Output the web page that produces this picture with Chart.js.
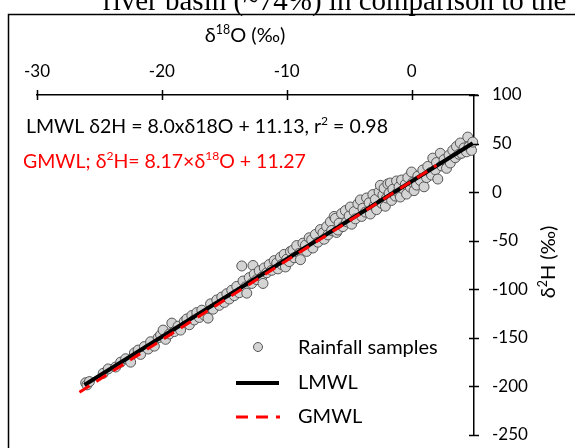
<!DOCTYPE html>
<html>
<head>
<meta charset="utf-8">
<script src="https://cdn.jsdelivr.net/npm/chart.js@4.4.0/dist/chart.umd.min.js"></script>
<style>
html, body { margin: 0; padding: 0; background: #fff; }
#wrap { position: relative; width: 575px; height: 448px; }
</style>
</head>
<body>
<div id="wrap"><canvas id="myChart" width="575" height="448"></canvas></div>
<script>
// rainfall samples
const d18O = [
    -26.1, -26.0, -25.8, -24.7, -24.3, -23.7, -23.3, -22.9, -22.5, -22.2,
    -21.9, -21.7, -21.4, -21.1, -20.9, -20.6, -20.3, -20.1, -19.9, -19.7, -19.4, -19.2, -19.0, -18.7, -18.5, -18.2,
    -18.0, -17.8, -17.6, -17.4, -17.2, -17.0, -16.8, -16.6, -16.3, -16.1, -15.9, -15.6, -15.4, -15.2, -15.0, -14.8, -14.6, -14.4, -14.2, -14.0, -13.8, -13.6,
    -13.5, -13.3, -13.2, -13.0, -12.8, -12.7, -12.6, -12.4, -12.2, -12.0, -11.9, -11.8, -11.6, -11.4, -11.2, -11.0, -10.8, -10.7, -10.5, -10.4, -10.2, -10.1, -10.0, -9.8,
    -9.7, -9.5, -9.4, -9.2, -9.0, -8.9, -8.7, -8.5, -8.4, -8.2, -8.0, -7.9, -7.7, -7.5, -7.3, -7.1, -7.0, -6.8, -6.7, -6.5, -6.4, -6.2, -6.1, -6.0, -5.9, -5.8, -5.6, -5.5,
    -5.3, -5.2, -5.0, -4.9, -4.8, -4.6, -4.5, -4.3, -4.1, -4.0, -3.9, -3.7, -3.6, -3.4, -3.3, -3.1, -3.0, -2.9, -2.8, -2.6, -2.5, -2.4, -2.3, -2.2, -2.1, -2.0, -1.9, -1.8,
    -1.7, -1.6, -1.5, -1.3, -1.2, -1.1, -1.0, -0.9, -0.8, -0.6, -0.5, -0.4, -0.3, -0.1, 0.0, 0.1, 0.2, 0.4, 0.5, 0.7, 0.9, 1.0,
    1.2, 1.3, 1.5, 1.6, 1.7, 1.9, 2.0, 2.1, 2.3, 2.4, 2.6, 2.8, 3.0, 3.1, 3.3, 3.5, 3.6, 3.8, 3.9, 4.0, 4.2, 4.4, 4.5, 4.6, 4.8, 4.9
];
const d2H = [
    -196.2, -198.4, -195.0, -186.5, -182.0, -180.0, -175.0, -171.5, -175.0, -165.5,
    -162.6, -167.0, -159.0, -161.5, -154.0, -158.5, -150.0, -147.0, -142.0, -151.5, -146.0, -134.8, -143.5, -138.0, -142.0, -133.0,
    -130.5, -136.5, -127.0, -131.5, -124.0, -129.0, -121.5, -126.5, -129.7, -115.0, -120.5, -111.0, -116.5, -108.0, -113.5, -104.5, -110.0, -101.0, -106.5, -97.0, -103.5, -76.0,
    -91.5, -97.5, -104.0, -88.0, -94.0, -75.5, -84.5, -90.0, -81.0, -87.5, -94.0, -78.0, -83.0, -74.5, -80.5, -70.5, -73.0, -79.0, -67.0, -74.5, -64.0, -77.0, -69.0, -71.5,
    -61.0, -59.6, -67.5, -55.0, -63.0, -69.5, -52.5, -54.5, -61.0, -47.0, -49.0, -57.5, -43.5, -51.5, -38.5, -42.0, -48.5, -35.5, -44.0, -30.5, -39.5, -25.0, -27.0, -41.5, -39.0, -32.0, -22.0, -35.5,
    -19.0, -30.5, -24.5, -15.3, -33.0, -20.0, -27.5, -12.0, -8.0, -25.0, -16.5, -20.5, -6.0, -11.0, -22.5, -2.5, -14.0, -7.5, -18.0, 0.5, 7.0, -11.5, -3.0, 4.0, -14.5, -6.0, 8.5, -1.0,
    9.4, -8.5, 3.0, -4.0, 11.5, 0.0, 5.5, -5.0, 12.5, 2.5, 8.0, -2.0, 15.0, 5.0, 20.7, 10.0, 1.5, 7.3, 16.5, 12.0, 22.8, 5.5,
    15.0, 26.5, 20.0, 17.6, 35.0, 23.0, 30.5, 13.5, 40.0, 27.0, 33.5, 24.5, 38.0, 30.0, 43.0, 35.5, 47.0, 39.0, 50.6, 40.0, 45.5, 41.5, 56.7, 47.0, 43.0, 51.5
];

// fitted lines, end points
const lmwlX = [-26.2, 4.9];
const lmwlY = [-198.5, 50.3];
const gmwlX = [-26.6, 2.0];
const gmwlY = [-206.0, 27.6];

const xTicks = [-30, -20, -10, 0];
const yTicks = [100, 50, 0, -50, -100, -150, -200, -250];

const caption = 'river basin (~74%) in comparison to the';
const FONT = 'Lato, "Open Sans", sans-serif';

const toPts = (xs, ys) => xs.map((v, i) => ({ x: v, y: ys[i] }));

// draws text with superscript parts: [[text, isSup], ...]
function richText(ctx, parts, x, y, size, color, align) {
    ctx.save();
    ctx.fillStyle = color;
    ctx.textBaseline = 'middle';
    ctx.textAlign = 'left';
    let w = 0;
    parts.forEach(p => {
        ctx.font = (p[1] ? size * 0.62 : size) + 'px ' + FONT;
        w += ctx.measureText(p[0]).width;
    });
    let cx = align === 'center' ? x - w / 2 : x;
    parts.forEach(p => {
        ctx.font = (p[1] ? size * 0.62 : size) + 'px ' + FONT;
        ctx.fillText(p[0], cx, p[1] ? y - size * 0.3 : y);
        cx += ctx.measureText(p[0]).width;
    });
    ctx.restore();
}

const decor = {
    id: 'decor',
    afterDraw(chart) {
        const { ctx, chartArea, scales: { x, y } } = chart;
        ctx.save();
        // frame of the figure
        ctx.strokeStyle = '#000';
        ctx.lineWidth = 1.5;
        ctx.beginPath();
        ctx.moveTo(8.5, 448);
        ctx.lineTo(8.5, 14.5);
        ctx.lineTo(575, 14.5);
        ctx.stroke();

        // clipped caption line from the page
        ctx.fillStyle = '#000';
        ctx.font = '29px "Liberation Serif", serif';
        ctx.textBaseline = 'alphabetic';
        ctx.fillText(caption, 103, 10);

        // tick marks across the axes
        ctx.lineWidth = 1.5;
        ctx.beginPath();
        xTicks.forEach(v => {
            const px = Math.round(x.getPixelForValue(v)) + 0.5;
            ctx.moveTo(px, chartArea.top - 5);
            ctx.lineTo(px, chartArea.top + 5);
        });
        yTicks.forEach(v => {
            const py = Math.round(y.getPixelForValue(v)) + 0.5;
            ctx.moveTo(chartArea.right - 5, py);
            ctx.lineTo(chartArea.right + 5, py);
        });
        // top axis runs a little past the right axis
        ctx.moveTo(chartArea.right, chartArea.top);
        ctx.lineTo(chartArea.right + 4, chartArea.top);
        ctx.stroke();
        ctx.restore();

        // axis titles
        richText(ctx, [['δ', 0], ['18', 1], ['O (‰)', 0]], 245, 36, 20, '#000', 'center');
        ctx.save();
        ctx.translate(549, 262);
        ctx.rotate(-Math.PI / 2);
        richText(ctx, [['δ', 0], ['2', 1], ['H (‰)', 0]], 0, 0, 20, '#000', 'center');
        ctx.restore();

        // equations
        richText(ctx, [['LMWL δ2H = 8.0xδ18O + 11.13, r', 0], ['2', 1], [' = 0.98', 0]], 26, 127, 19.5, '#000');
        richText(ctx, [['GMWL; δ', 0], ['2', 1], ['H= 8.17×δ', 0], ['18', 1], ['O + 11.27', 0]], 23, 162, 19.5, '#ff0000');

        // legend
        const ds = chart.data.datasets;
        ctx.save();
        ctx.beginPath();
        ctx.arc(258, 347, 4.5, 0, Math.PI * 2);
        ctx.fillStyle = ds[2].backgroundColor;
        ctx.fill();
        ctx.lineWidth = 1;
        ctx.strokeStyle = ds[2].borderColor;
        ctx.stroke();

        ctx.beginPath();
        ctx.moveTo(236, 383);
        ctx.lineTo(279, 383);
        ctx.lineWidth = ds[1].borderWidth;
        ctx.strokeStyle = ds[1].borderColor;
        ctx.stroke();

        ctx.beginPath();
        ctx.setLineDash(ds[0].borderDash);
        ctx.moveTo(236, 417);
        ctx.lineTo(280, 417);
        ctx.lineWidth = ds[0].borderWidth;
        ctx.strokeStyle = ds[0].borderColor;
        ctx.stroke();
        ctx.restore();

        richText(ctx, [['Rainfall samples', 0]], 298, 348, 20, '#000');
        richText(ctx, [['LMWL', 0]], 298, 383, 20, '#000');
        richText(ctx, [['GMWL', 0]], 298, 417, 20, '#000');
    }
};

const ctx = document.getElementById('myChart').getContext('2d');
const myChart = new Chart(ctx, {
    type: 'scatter',
    data: {
        datasets: [
            {
                label: 'GMWL',
                type: 'line',
                data: toPts(gmwlX, gmwlY),
                borderColor: '#ff0000',
                borderWidth: 3,
                borderDash: [12, 8],
                pointRadius: 0,
                fill: false,
                order: 1
            },
            {
                label: 'LMWL',
                type: 'line',
                data: toPts(lmwlX, lmwlY),
                borderColor: '#000000',
                borderWidth: 4,
                pointRadius: 0,
                fill: false,
                order: 2
            },
            {
                label: 'Rainfall samples',
                data: toPts(d18O, d2H),
                backgroundColor: '#d4d4d4',
                borderColor: '#555555',
                borderWidth: 1,
                pointRadius: 5,
                clip: false,
                order: 3
            }
        ]
    },
    options: {
        responsive: false,
        animation: false,
        layout: { padding: { left: 37, right: 0, top: 0, bottom: 13 } },
        plugins: {
            legend: { display: false },
            tooltip: { enabled: false }
        },
        scales: {
            x: {
                type: 'linear',
                position: 'top',
                min: -30,
                max: 5,
                afterBuildTicks: s => { s.ticks = xTicks.map(v => ({ value: v })); },
                afterFit: s => { s.height = 95; s.paddingLeft = 0; s.paddingRight = 0; },
                grid: { display: false, drawTicks: false },
                border: { display: true, color: '#000', width: 1.5 },
                ticks: { color: '#000', font: { family: FONT, size: 17 }, padding: 13, maxRotation: 0 }
            },
            y: {
                type: 'linear',
                position: 'right',
                min: -250,
                max: 100,
                afterBuildTicks: s => { s.ticks = yTicks.map(v => ({ value: v })); },
                afterFit: s => { s.width = 101; s.paddingTop = 0; s.paddingBottom = 0; },
                grid: { display: false, drawTicks: false },
                border: { display: true, color: '#000', width: 1.5 },
                ticks: { color: '#000', font: { family: FONT, size: 17 }, padding: 18 }
            }
        }
    },
    plugins: [decor]
});
</script>
</body>
</html>
